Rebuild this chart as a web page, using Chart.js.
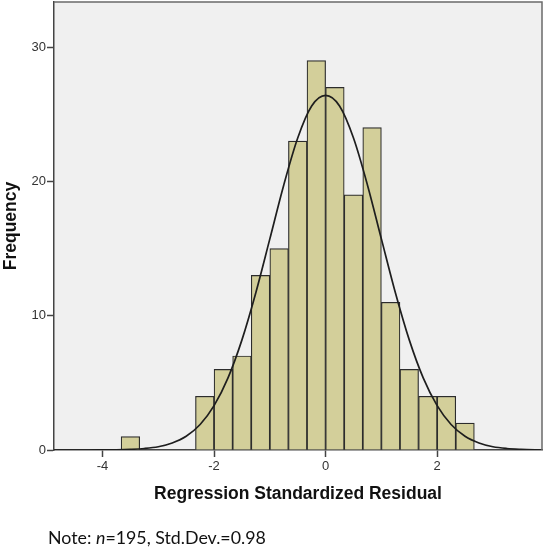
<!DOCTYPE html>
<html><head><meta charset="utf-8">
<script src="https://cdn.jsdelivr.net/npm/chart.js@4.4.1/dist/chart.umd.min.js"></script>
<style>
html,body{margin:0;padding:0;background:#fff;}
#wrap{position:relative;width:550px;height:552px;}
#note{position:absolute;left:48px;top:526px;font-family:Lato,"Open Sans",sans-serif;font-size:17.8px;color:#111;white-space:nowrap;}
</style>
</head><body>
<div id="wrap"><canvas id="c" width="550" height="552"></canvas><div id="note">Note: <i>n</i>=195, Std.Dev.=0.98</div></div>
<script>
// Histogram bins (centres of 1/3-wide bins) and frequencies
const binCenters = [-3.5, -3.1667, -2.8333, -2.5, -2.1667, -1.8333, -1.5, -1.1667, -0.8333, -0.5, -0.1667, 0.1667, 0.5, 0.8333, 1.1667, 1.5, 1.8333, 2.1667, 2.5];
const frequencies = [1, 0, 0, 0, 4, 6, 7, 13, 15, 23, 29, 27, 19, 24, 11, 6, 4, 4, 2];
// Normal curve
const curveX = [-4.87, -4.5, -4.25, -4, -3.75, -3.5, -3.25, -3, -2.75, -2.5, -2.25, -2, -1.75, -1.5, -1.25, -1, -0.75, -0.5, -0.25, 0, 0.25, 0.5, 0.75, 1, 1.25, 1.5, 1.75, 2, 2.25, 2.5, 2.75, 3, 3.25, 3.5, 3.88];
const curveY = [0, 0, 0, 0.01, 0.02, 0.05, 0.11, 0.24, 0.52, 1.02, 1.9, 3.3, 5.37, 8.2, 11.73, 15.72, 19.74, 23.23, 25.61, 26.4, 25.61, 23.23, 19.74, 15.72, 11.73, 8.2, 5.37, 3.3, 1.9, 1.02, 0.52, 0.24, 0.11, 0.05, 0];
const xTicks = [-4, -2, 0, 2];
const yTicks = [0, 10, 20, 30];
const xTitle = 'Regression Standardized Residual';
const yTitle = 'Frequency';

const plotFrame = {
  id: 'plotFrame',
  beforeDraw(chart) {
    const {ctx, chartArea: a} = chart;
    ctx.save();
    ctx.fillStyle = '#f0f0f0';
    ctx.fillRect(a.left, a.top, a.right - a.left, a.bottom - a.top);
    ctx.restore();
  },
  afterDraw(chart) {
    const {ctx, chartArea: a} = chart;
    ctx.save();
    ctx.strokeStyle = '#6a6a6a';
    ctx.lineWidth = 1.5;
    ctx.beginPath();
    ctx.moveTo(a.left, a.top);
    ctx.lineTo(a.right, a.top);
    ctx.lineTo(a.right, a.bottom);
    ctx.stroke();
    ctx.restore();
  }
};

const tickFont = {family: '"Liberation Sans", Arial, sans-serif', size: 13};
const titleFont = {family: '"Liberation Sans", Arial, sans-serif', size: 17.5, weight: 'bold'};

new Chart(document.getElementById('c'), {
  type: 'bar',
  data: {
    datasets: [
      {
        type: 'line',
        data: curveX.map((x, i) => ({x: x, y: curveY[i]})),
        borderColor: '#1e1e1e',
        borderWidth: 1.7,
        pointRadius: 0,
        fill: false,
        cubicInterpolationMode: 'monotone',
        order: 0
      },
      {
        type: 'bar',
        data: binCenters.map((x, i) => ({x: x, y: frequencies[i]})),
        backgroundColor: '#d3cf9a',
        borderColor: '#2c2c2c',
        borderWidth: 1.2,
        borderSkipped: 'bottom',
        barPercentage: 1,
        categoryPercentage: 1,
        order: 1
      }
    ]
  },
  options: {
    responsive: false,
    animation: false,
    layout: {padding: {top: 2, right: 8, left: 0, bottom: 0}},
    plugins: {legend: {display: false}, tooltip: {enabled: false}},
    scales: {
      x: {
        type: 'linear',
        offset: false,
        min: -4.87,
        max: 3.88,
        afterBuildTicks(s) { s.ticks = xTicks.map(v => ({value: v})); },
        afterFit(s) { s.height = 102; s.paddingLeft = 0; s.paddingRight = 0; },
        grid: {offset: false, drawOnChartArea: false, drawTicks: true, tickLength: 7, tickColor: '#444', tickWidth: 1.5},
        border: {display: true, color: '#444', width: 1.5},
        ticks: {font: tickFont, color: '#333', padding: 2, maxRotation: 0},
        title: {display: true, text: xTitle, font: titleFont, color: '#111', padding: {top: 0, bottom: 47.5}}
      },
      y: {
        type: 'linear',
        min: 0,
        max: 33.36,
        afterBuildTicks(s) { s.ticks = yTicks.map(v => ({value: v})); },
        afterFit(s) { s.width = 54; s.paddingTop = 0; s.paddingBottom = 0; },
        grid: {drawOnChartArea: false, drawTicks: true, tickLength: 7, tickColor: '#444', tickWidth: 1.5},
        border: {display: true, color: '#444', width: 1.5},
        ticks: {font: tickFont, color: '#333', padding: 1},
        title: {display: true, text: yTitle, font: titleFont, color: '#111', padding: {top: 1, bottom: 0}}
      }
    }
  },
  plugins: [plotFrame]
});
</script>
</body></html>
